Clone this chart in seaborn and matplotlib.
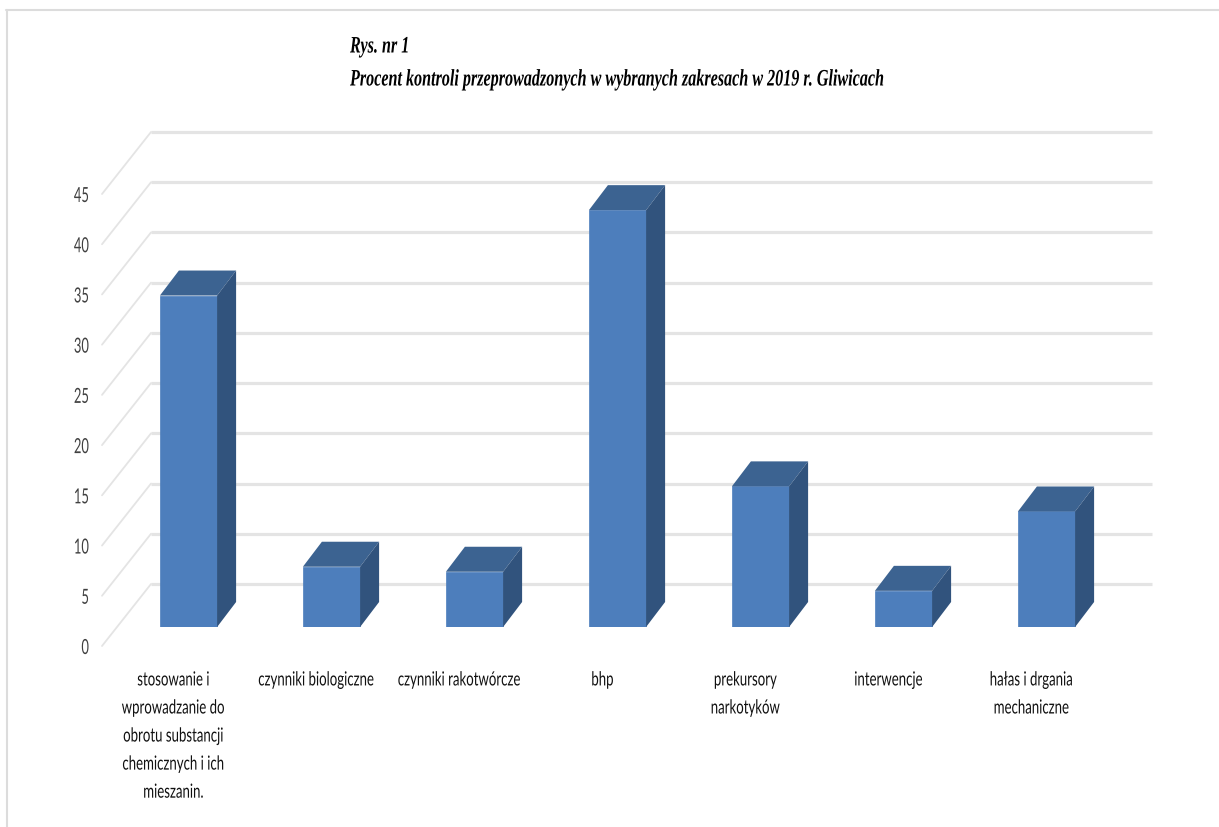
import matplotlib
matplotlib.use("Agg")
import matplotlib.pyplot as plt
from matplotlib.patches import Polygon
from matplotlib.lines import Line2D
from matplotlib.patheffects import AbstractPathEffect
from matplotlib.transforms import Affine2D, Bbox
import pandas as pd
import seaborn as sns

categories = [
    "stosowanie i\nwprowadzanie do\nobrotu substancji\nchemicznych i ich\nmieszanin.",
    "czynniki biologiczne",
    "czynniki rakotwórcze",
    "bhp",
    "prekursory\nnarkotyków",
    "interwencje",
    "hałas i drgania\nmechaniczne",
]
values = [33.0, 6.0, 5.5, 41.5, 14.0, 3.6, 11.5]
y_ticks = [0, 5, 10, 15, 20, 25, 30, 35, 40, 45]
title_lines = [
    "Rys. nr 1",
    "Procent kontroli przeprowadzonych w wybranych zakresach w 2019 r. Gliwicach",
]

W, H, DPI = 1219, 827, 100
sns.set_theme(style="white")
plt.rcParams["font.family"] = ["Lato", "Liberation Sans", "DejaVu Sans"]

FRONT_COLOR = "#4D7EBC"
TOP_COLOR = "#3C6391"
SIDE_COLOR = "#31537D"
GRID_COLOR = "#E4E4E4"


class SqueezeX(AbstractPathEffect):
    """Draws a text narrower by narrowing its glyph outlines around its anchor."""

    def __init__(self, text, factor):
        super().__init__()
        self.text = text
        self.factor = factor

    def draw_path(self, renderer, gc, tpath, affine, rgbFace=None):
        ax_x = self.text.get_transform().transform(self.text.get_unitless_position())[0]
        squeeze = Affine2D().translate(-ax_x, 0).scale(self.factor, 1).translate(ax_x, 0)
        renderer.draw_path(gc, tpath, affine + squeeze, rgbFace)


def squeeze_text(text, factor):
    """Condense a text artist and keep its reported extent in step with what is drawn."""
    text.set_path_effects([SqueezeX(text, factor)])
    full_extent = text.get_window_extent

    def narrow_extent(renderer=None, dpi=None):
        box = full_extent(renderer, dpi)
        x = text.get_transform().transform(text.get_unitless_position())[0]
        return Bbox([[x + (box.x0 - x) * factor, box.y0], [x + (box.x1 - x) * factor, box.y1]])

    text.get_window_extent = narrow_extent


fig = plt.figure(figsize=(W / DPI, H / DPI), dpi=DPI, facecolor="white")
# The axes frame is the plane in which the bars' front faces stand
ax = fig.add_axes([117 / W, (H - 627) / H, 1001 / W, 452 / H])

df = pd.DataFrame({"zakres": categories, "procent": values})
sns.barplot(data=df, x="zakres", y="procent", color=FRONT_COLOR, saturation=1,
            width=0.4, ax=ax, zorder=3, edgecolor=FRONT_COLOR, linewidth=0.5)
ax.set_xlim(-0.5, 6.5)
ax.set_ylim(0, 45)
ax.set_xlabel("")
ax.set_ylabel("")
sns.despine(ax=ax, left=True, bottom=True, right=True, top=True)

# Pixel sizes of the perspective, expressed in data units
px_x = 7 / 1001
px_y = 45 / 452
bar_dx, bar_dy = 19 * px_x, 25 * px_y
wall_dx, wall_dy = 34 * px_x, 43 * px_y
front_dx, front_dy = -15 * px_x, -19 * px_y

# Back wall gridlines and the diagonals running forward from them
for tick in y_ticks:
    ax.add_line(Line2D([-0.5 + wall_dx, 6.5 + wall_dx], [tick + wall_dy] * 2,
                       color=GRID_COLOR, lw=2.3, clip_on=False, zorder=1,
                       solid_capstyle="butt"))
    ax.add_line(Line2D([-0.5 + front_dx, -0.5 + wall_dx],
                       [tick + front_dy, tick + wall_dy],
                       color=GRID_COLOR, lw=1.3, clip_on=False, zorder=1))

# Top and side faces of each bar
half = 0.2
for i, value in enumerate(values):
    left, right = i - half, i + half
    ax.add_patch(Polygon(
        [(left, value), (right, value), (right + bar_dx, value + bar_dy), (left + bar_dx, value + bar_dy)],
        closed=True, facecolor=TOP_COLOR, edgecolor="none", clip_on=False, zorder=3))
    ax.add_patch(Polygon(
        [(right, 0), (right + bar_dx, bar_dy), (right + bar_dx, value + bar_dy), (right, value)],
        closed=True, facecolor=SIDE_COLOR, edgecolor="none", clip_on=False, zorder=3))

# Tick labels sit on the front edge of the floor
shift = Affine2D().translate(-15, -19)
ax.set_yticks(y_ticks)
ax.set_yticklabels([str(t) for t in y_ticks])
ax.tick_params(axis="y", length=0, pad=9.4, labelsize=15, labelcolor="#404040")
for label in ax.get_yticklabels():
    label.set_transform(label.get_transform() + shift)
    squeeze_text(label, 0.62)

ax.set_xticks(range(len(categories)))
ax.set_xticklabels(categories, linespacing=1.79)
ax.tick_params(axis="x", length=0, pad=32, labelsize=14, labelcolor="#111111")
for label in ax.get_xticklabels():
    label.set_transform(label.get_transform() + Affine2D().translate(-15, 0))
    label.set_verticalalignment("top")
    squeeze_text(label, 0.68)
ax.grid(False)

# Heading, set in a condensed serif italic
for text, y in zip(title_lines, (47, 80)):
    heading = fig.text(350 / W, 1 - y / H, text, family="Liberation Serif", style="italic",
                       weight="bold", fontsize=17, color="black", va="center", ha="left")
    squeeze_text(heading, 0.683)

# Thin frame along the top and left edges
fig.add_artist(Line2D([6 / W, 1], [1 - 9.5 / H, 1 - 9.5 / H], color="#DCDCDC", lw=1.5))
fig.add_artist(Line2D([7 / W, 7 / W], [0, 1 - 9.5 / H], color="#DCDCDC", lw=1.5))

fig.savefig("out.png", dpi=DPI, facecolor="white")
